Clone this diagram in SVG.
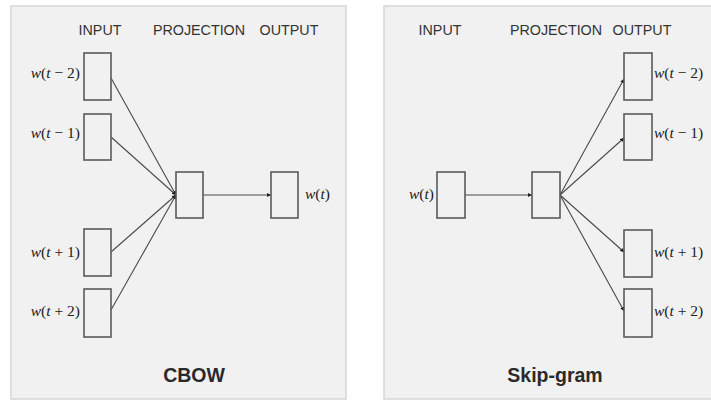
<svg xmlns="http://www.w3.org/2000/svg" width="711" height="401" viewBox="0 0 711 401">
<defs>
<marker id="ah" viewBox="0 0 6 6" refX="6" refY="3" markerWidth="4" markerHeight="4" orient="auto" markerUnits="userSpaceOnUse">
<path d="M0,0 L6,3 L0,6 z" fill="#222"/>
</marker>
</defs>
<style>
.panel{fill:#f1f1f1;stroke:#d6d6d6;stroke-width:1.5}
.box{fill:#f1f1f1;stroke:#5a5a5a;stroke-width:1.6}
.edge{stroke:#4a4a4a;stroke-width:1.1;fill:none;marker-end:url(#ah)}
.hdr{font-family:"Liberation Sans",Arial,sans-serif;font-size:14.3px;fill:#333;text-anchor:middle}
.ttl{font-family:"Liberation Sans",Arial,sans-serif;font-size:19.5px;font-weight:bold;fill:#2a2a2a;text-anchor:middle}
.lbl{font-family:"Liberation Serif","Times New Roman",serif;font-size:15.5px;fill:#222}
.it{font-style:italic}
</style>
<rect x="0" y="0" width="711" height="401" fill="#ffffff"/>
<rect class="panel" x="11" y="6" width="335" height="393"/>
<rect class="panel" x="384" y="6" width="335" height="393"/>

<g id="cbow-headers">
<text class="hdr" x="100" y="35">INPUT</text>
<text class="hdr" x="199" y="35">PROJECTION</text>
<text class="hdr" x="289" y="35">OUTPUT</text>
</g>
<g id="sg-headers">
<text class="hdr" x="440" y="35">INPUT</text>
<text class="hdr" x="556" y="35">PROJECTION</text>
<text class="hdr" x="642" y="35">OUTPUT</text>
</g>

<g id="connectors">
<line class="edge" x1="111" y1="78" x2="176" y2="195"/>
<line class="edge" x1="111" y1="137" x2="176" y2="195"/>
<line class="edge" x1="111" y1="252" x2="176" y2="195"/>
<line class="edge" x1="111" y1="310" x2="176" y2="195"/>
<line class="edge" x1="203" y1="195" x2="271" y2="195"/>
<line class="edge" x1="465" y1="195" x2="532" y2="195"/>
<line class="edge" x1="560" y1="195" x2="624" y2="79"/>
<line class="edge" x1="560" y1="195" x2="624" y2="138"/>
<line class="edge" x1="560" y1="195" x2="624" y2="252"/>
<line class="edge" x1="560" y1="195" x2="624" y2="311"/>
</g>

<g id="cbow-in-tm2"><rect class="box" x="84" y="53" width="27" height="47"/>
<text class="lbl" x="80" y="78" text-anchor="end"><tspan class="it">w</tspan>(<tspan class="it">t</tspan> − 2)</text></g>
<g id="cbow-in-tm1"><rect class="box" x="84" y="114" width="27" height="46"/>
<text class="lbl" x="80" y="138" text-anchor="end"><tspan class="it">w</tspan>(<tspan class="it">t</tspan> − 1)</text></g>
<g id="cbow-in-tp1"><rect class="box" x="84" y="229" width="27" height="47"/>
<text class="lbl" x="80" y="257" text-anchor="end"><tspan class="it">w</tspan>(<tspan class="it">t</tspan> + 1)</text></g>
<g id="cbow-in-tp2"><rect class="box" x="84" y="289" width="27" height="48"/>
<text class="lbl" x="80" y="316" text-anchor="end"><tspan class="it">w</tspan>(<tspan class="it">t</tspan> + 2)</text></g>
<g id="cbow-proj"><rect class="box" x="176" y="172" width="27" height="46"/></g>
<g id="cbow-out"><rect class="box" x="271" y="172" width="27" height="46"/>
<text class="lbl" x="305" y="199"><tspan class="it">w</tspan>(<tspan class="it">t</tspan>)</text></g>
<g id="cbow-title"><text class="ttl" x="194" y="382">CBOW</text></g>

<g id="sg-in"><rect class="box" x="437" y="172" width="28" height="46"/>
<text class="lbl" x="434" y="199" text-anchor="end"><tspan class="it">w</tspan>(<tspan class="it">t</tspan>)</text></g>
<g id="sg-proj"><rect class="box" x="532" y="172" width="28" height="46"/></g>
<g id="sg-out-tm2"><rect class="box" x="624" y="53" width="28" height="47"/>
<text class="lbl" x="654" y="78"><tspan class="it">w</tspan>(<tspan class="it">t</tspan> − 2)</text></g>
<g id="sg-out-tm1"><rect class="box" x="624" y="114" width="28" height="46"/>
<text class="lbl" x="654" y="138"><tspan class="it">w</tspan>(<tspan class="it">t</tspan> − 1)</text></g>
<g id="sg-out-tp1"><rect class="box" x="624" y="230" width="28" height="47"/>
<text class="lbl" x="654" y="257"><tspan class="it">w</tspan>(<tspan class="it">t</tspan> + 1)</text></g>
<g id="sg-out-tp2"><rect class="box" x="624" y="289" width="28" height="48"/>
<text class="lbl" x="654" y="316"><tspan class="it">w</tspan>(<tspan class="it">t</tspan> + 2)</text></g>
<g id="sg-title"><text class="ttl" x="555" y="382">Skip-gram</text></g>
</svg>
